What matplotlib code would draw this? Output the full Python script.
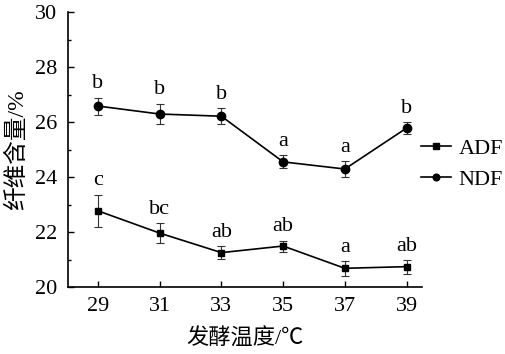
import matplotlib
matplotlib.use("Agg")
import matplotlib.pyplot as plt
from matplotlib.ticker import MultipleLocator

plt.rcParams['font.family'] = ['Liberation Serif', 'Noto Sans CJK SC']
plt.rcParams['mathtext.fontset'] = 'stix'

temps = [29, 31, 33, 35, 37, 39]
adf = [22.77, 21.96, 21.25, 21.49, 20.68, 20.74]
adf_err = [0.59, 0.35, 0.24, 0.20, 0.27, 0.25]
adf_letters = ['c', 'bc', 'ab', 'ab', 'a', 'ab']
ndf = [26.58, 26.29, 26.21, 24.55, 24.29, 25.78]
ndf_err = [0.31, 0.38, 0.30, 0.24, 0.30, 0.22]
ndf_letters = ['b', 'b', 'b', 'a', 'a', 'b']

fig = plt.figure(figsize=(5.05, 3.54), dpi=100)
ax = fig.add_axes([68/505, 1-287/354, (422-68)/505, (287-12)/354])

ax.errorbar(temps, adf, yerr=adf_err, color='black', marker='s', markersize=5,
            lw=1.2, elinewidth=0.8, ecolor='#333333', capsize=3, capthick=0.8, label='ADF')
ax.errorbar(temps, ndf, yerr=ndf_err, color='black', marker='o', markersize=6,
            lw=1.2, elinewidth=0.8, ecolor='#333333', capsize=3, capthick=0.8, label='NDF')

for x, y, e, t in zip(temps, adf, adf_err, adf_letters):
    ax.annotate(t, (x, y + e), xytext=(0, 3), textcoords='offset points',
                ha='center', va='bottom', fontsize=16)
for x, y, e, t in zip(temps, ndf, ndf_err, ndf_letters):
    ax.annotate(t, (x, y + e), xytext=(0, 3), textcoords='offset points',
                ha='center', va='bottom', fontsize=16)

ax.set_xlim(28.03, 39.5)
ax.set_ylim(20, 30)
ax.set_xticks(temps)
ax.xaxis.set_minor_locator(MultipleLocator(2, offset=1))
ax.yaxis.set_major_locator(MultipleLocator(2))
ax.yaxis.set_minor_locator(MultipleLocator(1))
ax.tick_params(which='both', direction='in', labelsize=16, width=1)
ax.tick_params(which='major', length=4)
ax.tick_params(which='minor', length=2.5)
ax.tick_params(axis='x', pad=7)
ax.tick_params(axis='y', pad=8)
ax.spines['top'].set_visible(False)
ax.spines['right'].set_visible(False)
for s in ['left', 'bottom']:
    ax.spines[s].set_linewidth(1.2)

ax.set_xlabel('发酵温度/℃', fontsize=16, labelpad=9)
ax.set_ylabel('纤维含量/%', fontsize=17, labelpad=5)

h, l = ax.get_legend_handles_labels()
h = [hh[0] for hh in h]
leg = fig.legend(h, l, loc='center left', bbox_to_anchor=(421/505, 1-164/354),
                 frameon=False, fontsize=16, handlelength=1.35, handletextpad=0.35,
                 labelspacing=0.45, borderpad=0, borderaxespad=0, markerscale=0.8)

fig.savefig('out.png', dpi=100)
